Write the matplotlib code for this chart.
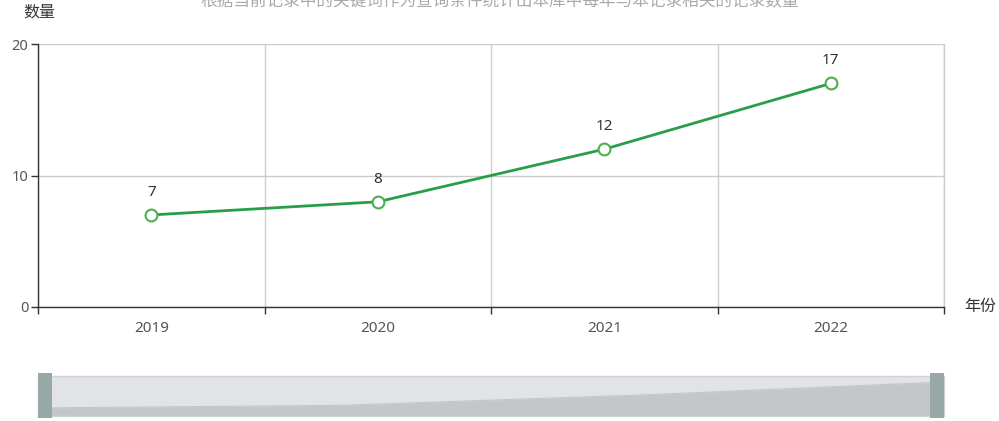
import matplotlib
matplotlib.use("Agg")
import matplotlib.pyplot as plt
import numpy as np

plt.rcParams['font.family'] = ['Noto Sans', 'Noto Sans CJK SC', 'DejaVu Sans']

years = ["2019", "2020", "2021", "2022"]
counts = [7, 8, 12, 17]
y_ticks = [0, 10, 20]
title = "根据当前记录中的关键词作为查询条件统计出本库中每年与本记录相关的记录数量"
y_name = "数量"
x_name = "年份"

W, H = 999, 421
fig = plt.figure(figsize=(W / 100, H / 100), dpi=100)

def box(x0, y0, x1, y1):
    return [x0 / W, 1 - y1 / H, (x1 - x0) / W, (y1 - y0) / H]

ax = fig.add_axes(box(38, 44, 944, 307))
x = np.arange(len(years))
ax.set_xlim(-0.5, len(years) - 0.5)
ax.set_ylim(0, 20)

line_color = "#2a9d4a"
ax.plot(x, counts, color=line_color, lw=2, zorder=3)
ax.plot(x, counts, ls="none", marker="o", ms=8.5, mfc="white",
        mec="#4caf50", mew=1.5, zorder=4, clip_on=False)
for xi, v in zip(x, counts):
    ax.annotate(str(v), (xi, v), xytext=(0, 11), textcoords="offset points",
                ha="center", va="bottom", fontsize=11, color="#333333")

ax.set_yticks(y_ticks)
ax.set_yticklabels([str(t) for t in y_ticks], fontsize=10.5, color="#555555")
bounds = np.arange(-0.5, len(years), 1.0)
ax.set_xticks(bounds)
ax.set_xticklabels([""] * len(bounds))
ax.set_xticks(x, minor=True)
ax.set_xticklabels(years, minor=True, fontsize=11, color="#555555")
ax.tick_params(axis="x", which="minor", length=0, pad=10)
ax.tick_params(axis="x", which="major", length=5, width=1, color="#333333")
ax.tick_params(axis="y", length=5, width=1, color="#333333", pad=2)
ax.grid(True, which="major", color="#cccccc", lw=1)
ax.axvline(bounds[-1], color="#cccccc", lw=1, clip_on=False, zorder=0.5)
ax.set_axisbelow(True)
for s in ["top", "right"]:
    ax.spines[s].set_visible(False)
for s in ["left", "bottom"]:
    ax.spines[s].set_color("#333333")
    ax.spines[s].set_linewidth(1)
ax.spines["bottom"].set_zorder(2.5)

fig.text(39 / W, 1 - 13 / H, y_name, ha="center", va="center", fontsize=11.5, color="#333333")
fig.text(964 / W, 1 - 307 / H, x_name, ha="left", va="center", fontsize=11.5, color="#333333")
fig.text(0.5, 1 - 2 / H, title, ha="center", va="center", fontsize=12, color="#aaaaaa")

# data zoom slider
sl = fig.add_axes(box(38, 376, 944, 416))
sl.set_facecolor("#e1e3e7")
sl.fill_between(x, counts, 0, color="#c3c7c9", lw=0)
sl.plot(x, counts, color="#c3c7c9", lw=0.8)
sl.set_xlim(0, len(years) - 1)
sl.set_ylim(3.9, 19.3)
sl.set_xticks([])
sl.set_yticks([])
for s in sl.spines.values():
    s.set_color("#d0d3d6")
    s.set_linewidth(1)
for hx in (38, 930):
    h = fig.add_axes(box(hx, 373, hx + 14, 418))
    h.set_facecolor("#97a8a6")
    h.set_xticks([]); h.set_yticks([])
    for s in h.spines.values():
        s.set_visible(False)

fig.savefig("out.png", dpi=100)
